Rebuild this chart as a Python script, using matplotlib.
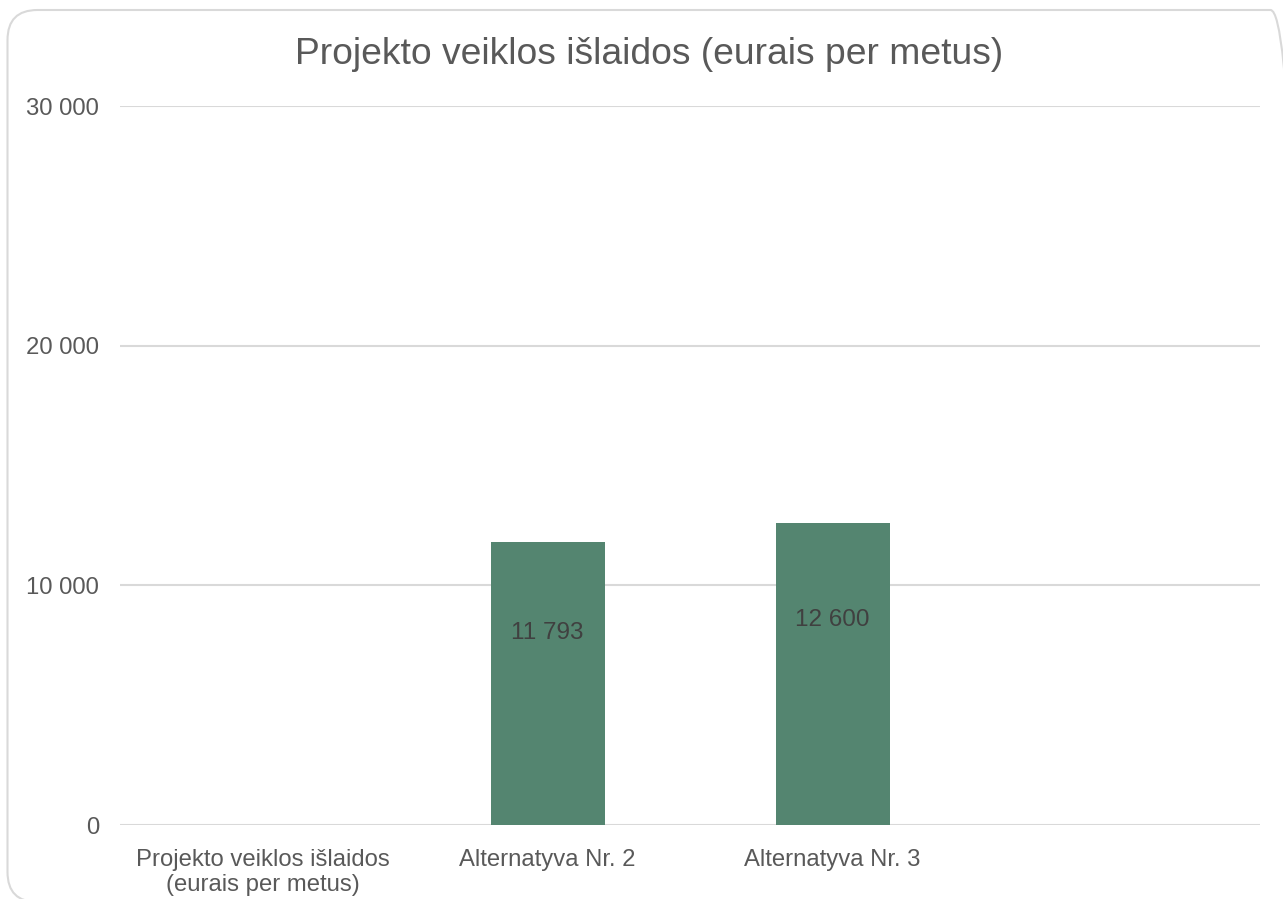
import numpy as np
import matplotlib.pyplot as plt
from matplotlib.patches import FancyBboxPatch

categories = ["Projekto veiklos išlaidos\n(eurais per metus)", "Alternatyva Nr. 2", "Alternatyva Nr. 3", ""]
values = [np.nan, 11793, 12600, np.nan]
label_frac = 0.68  # data labels sit a bit above mid-bar

bar_color = "#548570"
text_color = "#595959"
grid_color = "#d9d9d9"

plt.rcParams["font.family"] = ["Liberation Sans", "DejaVu Sans"]

W, H = 1283, 899
fig = plt.figure(figsize=(W / 100, H / 100), dpi=100)
ax = fig.add_axes([120 / W, 1 - 825 / H, 1140 / W, (825 - 106) / H])

# outer chart frame, in pixel coordinates (runs off the right and bottom edges)
frame = FancyBboxPatch((7.5, -3), 1293, 892,
                       boxstyle="round,pad=0,rounding_size=30",
                       transform=None, facecolor="none",
                       edgecolor="#d9d9d9", linewidth=1.5)
fig.patches.append(frame)

x = np.arange(len(categories))
ax.bar(x, values, width=0.4, color=bar_color, zorder=3)
for xi, v in zip(x, values):
    if np.isnan(v):
        continue
    ax.text(xi, v * label_frac, f"{v:,.0f}".replace(",", " "), ha="center", va="center",
            fontsize=17.5, color="#404040", zorder=4)

ax.set_xlim(-0.5, len(categories) - 0.5)
ax.set_ylim(0, 30000)
ax.set_yticks([0, 10000, 20000, 30000])
ax.set_yticklabels([f"{t:,}".replace(",", " ") for t in [0, 10000, 20000, 30000]])
ax.set_xticks(x)
ax.set_xticklabels(categories)
ax.yaxis.grid(True, color=grid_color, linewidth=1.5)
ax.set_axisbelow(True)
for s in ax.spines.values():
    s.set_visible(False)
ax.tick_params(axis="both", length=0, labelsize=17.2, colors=text_color)
ax.tick_params(axis="y", pad=15)
ax.tick_params(axis="x", pad=17)

fig.text(649 / W, 1 - 54 / H, "Projekto veiklos išlaidos (eurais per metus)",
         ha="center", va="center", fontsize=26.8, color=text_color)

fig.savefig("out.png", dpi=100)
